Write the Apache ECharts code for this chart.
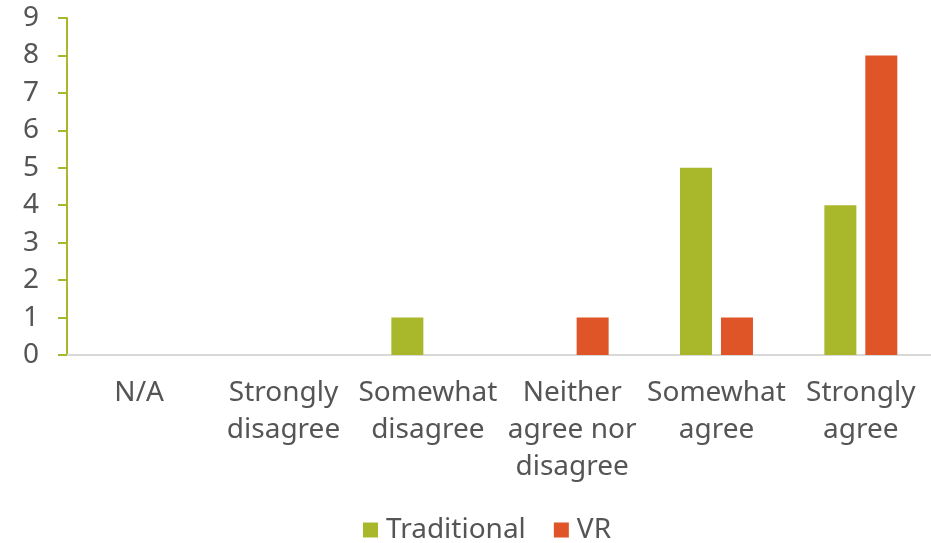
<!DOCTYPE html>
<html><head><meta charset="utf-8">
<script src="https://cdn.jsdelivr.net/npm/echarts@6/dist/echarts.min.js"></script>
<style>html,body{margin:0;padding:0;background:#fff}#c{width:931px;height:543px}</style>
</head><body><div id="c"></div>
<script>
const categories = ['N/A', 'Strongly\ndisagree', 'Somewhat\ndisagree', 'Neither\nagree nor\ndisagree', 'Somewhat\nagree', 'Strongly\nagree'];
const traditional = [0, 0, 1, 0, 5, 4];
const vr = [0, 0, 0, 1, 1, 8];
const yTicks = {min: 0, max: 9, interval: 1};
const chart = echarts.init(document.getElementById('c'));
const font = '"Noto Sans", sans-serif';
const txt = '#555555';
chart.setOption({
  animation: false,
  textStyle: {fontFamily: font},
  grid: {left: 67, right: -2, top: 18, bottom: 188, outerBoundsMode: 'none', containLabel: false},
  legend: {
    top: 511, left: 358, itemWidth: 15, itemHeight: 15, itemGap: 28,
    icon: 'rect',
    textStyle: {fontSize: 28, color: txt, fontFamily: font, padding: [0, 0, 0, 3]},
    data: ['Traditional', 'VR']
  },
  xAxis: {
    type: 'category', data: categories,
    axisLine: {lineStyle: {color: '#d9d9d9', width: 2}},
    axisTick: {show: false},
    axisLabel: {fontSize: 28, color: txt, lineHeight: 37, margin: 20, interval: 0, fontFamily: font}
  },
  yAxis: {
    type: 'value', min: yTicks.min, max: yTicks.max, interval: yTicks.interval,
    axisLine: {show: true, lineStyle: {color: '#a8b82a', width: 2}},
    axisTick: {show: true, length: 9, lineStyle: {color: '#a8b82a', width: 2}},
    splitLine: {show: false},
    axisLabel: {fontSize: 28, color: txt, margin: 28, fontFamily: font}
  },
  series: [
    {name: 'Traditional', type: 'bar', data: traditional, barWidth: 32, barGap: '28%',
     itemStyle: {color: '#a8b82a'}},
    {name: 'VR', type: 'bar', data: vr, barWidth: 32,
     itemStyle: {color: '#e05527'}}
  ]
});
</script></body></html>
